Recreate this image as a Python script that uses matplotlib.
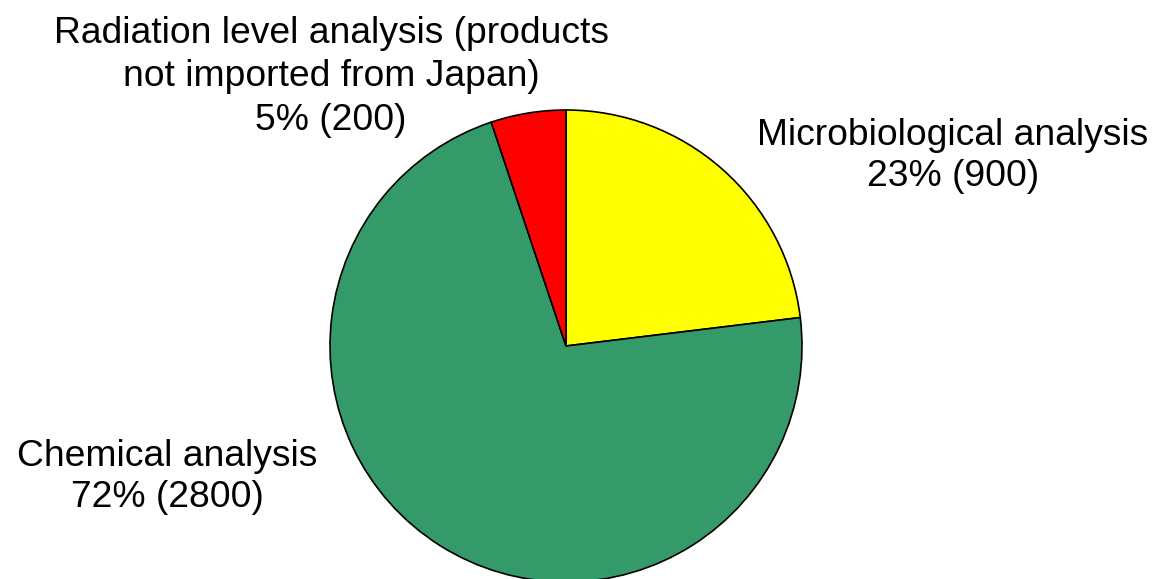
import matplotlib.pyplot as plt

# Data
labels = ["Microbiological analysis", "Chemical analysis",
          "Radiation level analysis (products\nnot imported from Japan)"]
counts = [900, 2800, 200]
percents = [23, 72, 5]
colors = ["#FFFF00", "#359A69", "#FF0000"]

W, H = 1153, 579
fig = plt.figure(figsize=(W / 100, H / 100), dpi=100)
ax = fig.add_axes([0, 0, 1, 1])

ax.pie(counts, colors=colors, startangle=90, counterclock=False,
       center=(566, H - 346), radius=236, frame=True,
       wedgeprops=dict(edgecolor="black", linewidth=1.2))
ax.set_xlim(0, W)
ax.set_ylim(0, H)
ax.axis("off")

# label positions in pixel coords (x center, y center from top), line spacing
label_pos = [(953, 156, 1.2), (167, 477, 1.2), (331, 77, 1.33)]
for lab, pct, n, (x, y, ls) in zip(labels, percents, counts, label_pos):
    ax.text(x, H - y, f"{lab}\n{pct}% ({n})", ha="center", va="center",
            fontsize=26.8, family="Liberation Sans", linespacing=ls)

fig.savefig("out.png", dpi=100)
